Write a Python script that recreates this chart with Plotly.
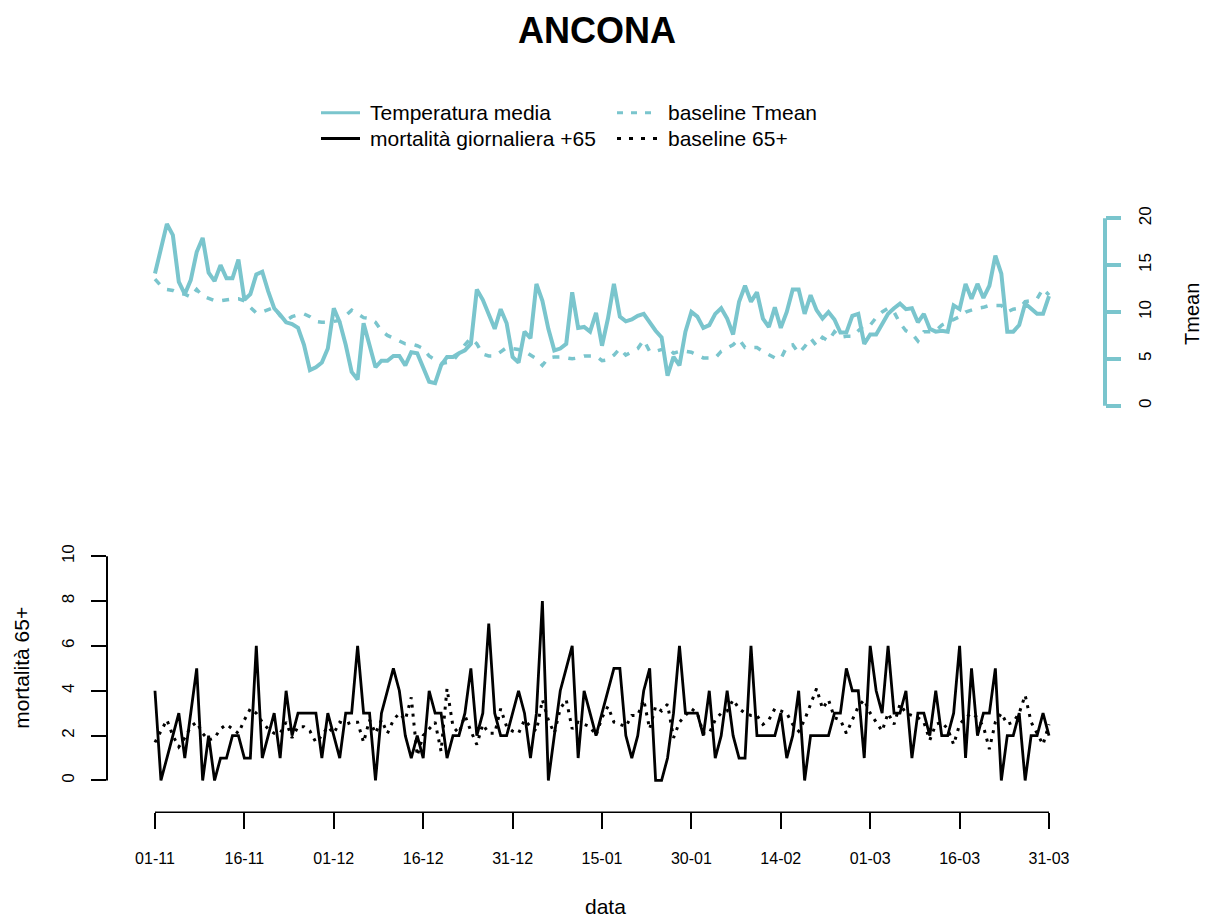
import pandas as pd
import plotly.graph_objects as go

# ---------------- data ----------------
dates = pd.date_range("2022-11-01", "2023-03-31", freq="D")

tmean = [14.1, 16.7, 19.4, 18.2, 13.2, 11.9, 13.4, 16.4, 17.9, 14.2,
         13.3, 15.0, 13.6, 13.6, 15.6, 11.3, 11.9, 14.0, 14.3, 12.2,
         10.4, 9.7, 8.9, 8.7, 8.3, 6.5, 3.8, 4.1, 4.6, 6.1,
         10.4, 8.9, 6.5, 3.6, 2.8, 8.8, 6.5, 4.1, 4.8, 4.8,
         5.3, 5.3, 4.3, 5.7, 5.6, 4.0, 2.55, 2.4, 4.3, 5.2,
         5.2, 5.6, 5.9, 6.6, 12.4, 11.3, 9.7, 8.2, 10.3, 8.8,
         5.2, 4.6, 7.9, 7.2, 13.0, 11.2, 8.2, 5.9, 6.1, 6.6,
         12.1, 8.3, 8.4, 7.9, 9.9, 6.4, 9.3, 13.0, 9.5, 9.0,
         9.2, 9.6, 9.8, 8.9, 8.0, 7.3, 3.2, 5.2, 4.3, 7.9,
         10.0, 9.5, 8.3, 8.6, 9.8, 10.4, 9.3, 7.6, 11.1, 12.8,
         11.1, 12.1, 9.3, 8.4, 10.5, 8.3, 10.0, 12.4, 12.4, 9.8,
         11.8, 10.2, 9.3, 10.0, 9.2, 7.8, 7.8, 9.6, 9.8, 6.6,
         7.6, 7.6, 8.8, 9.8, 10.4, 10.9, 10.3, 10.4, 8.9, 9.8,
         8.2, 7.9, 8.0, 7.9, 10.7, 10.3, 13.0, 11.4, 13.0, 11.5,
         12.8, 16.0, 14.1, 7.9, 7.9, 8.6, 10.9, 10.4, 9.8, 9.8,
         11.7]

baseline_tmean = [13.5, 12.8, 12.4, 12.3, 12.0, 11.9, 11.6, 12.4, 11.7, 11.4,
                  11.2, 11.2, 11.3, 11.4, 11.4, 11.2, 10.5, 9.9, 10.0, 10.3,
                  10.5, 9.6, 9.1, 9.5, 9.7, 9.8, 9.5, 9.0, 8.9, 8.9,
                  9.0, 9.1, 9.6, 10.2, 9.8, 9.4, 9.3, 8.9, 8.0, 7.5,
                  7.2, 6.9, 6.6, 6.6, 6.4, 6.1, 5.3, 4.9, 4.5, 4.6,
                  4.8, 5.6, 6.5, 7.2, 6.6, 5.5, 5.3, 5.3, 5.7, 6.2,
                  6.1, 6.0, 5.8, 5.4, 5.0, 4.3, 5.1, 5.2, 5.2, 5.1,
                  5.0, 5.1, 5.3, 5.3, 5.3, 4.8, 4.9, 5.4, 6.1, 5.4,
                  5.7, 6.1, 7.0, 5.8, 5.8, 6.0, 6.2, 5.6, 5.8, 5.8,
                  5.7, 5.4, 5.1, 5.1, 5.1, 5.8, 6.1, 6.5, 7.1, 6.2,
                  6.2, 6.2, 5.8, 5.4, 5.1, 5.0, 6.3, 6.5, 5.6, 6.3,
                  7.2, 6.4, 7.3, 6.9, 7.9, 7.3, 7.4, 7.4, 8.0, 8.6,
                  8.6, 9.4, 10.0, 10.4, 10.0, 8.8, 8.0, 7.7, 6.9, 7.9,
                  7.9, 8.0, 8.6, 8.9, 9.1, 9.5, 10.0, 10.2, 10.4, 10.5,
                  10.7, 10.7, 10.7, 10.0, 10.3, 10.4, 11.1, 11.2, 11.4, 12.5,
                  11.8]

mortality = [4, 0, 1, 2, 3, 1, 3, 5, 0, 2,
             0, 1, 1, 2, 2, 1, 1, 6, 1, 2,
             3, 1, 4, 2, 3, 3, 3, 3, 1, 3,
             2, 1, 3, 3, 6, 3, 3, 0, 3, 4,
             5, 4, 2, 1, 2, 1, 4, 3, 3, 1,
             2, 2, 3, 5, 2, 3, 7, 3, 2, 2,
             3, 4, 3, 1, 3, 8, 0, 2, 4, 5,
             6, 1, 4, 3, 2, 3, 4, 5, 5, 2,
             1, 2, 4, 5, 0, 0, 1, 3, 6, 3,
             3, 3, 2, 4, 1, 2, 4, 2, 1, 1,
             6, 2, 2, 2, 2, 3, 1, 2, 4, 0,
             2, 2, 2, 2, 3, 3, 5, 4, 4, 1,
             6, 4, 3, 6, 3, 3, 4, 1, 3, 3,
             2, 4, 2, 2, 3, 6, 1, 5, 2, 3,
             3, 5, 0, 2, 2, 3, 0, 2, 2, 3,
             2]

baseline_65 = [1.7, 2.2, 2.7, 2.0, 1.5, 1.9, 2.4, 2.6, 2.1, 1.8,
               1.9, 2.3, 2.5, 2.3, 2.1, 2.7, 3.2, 3.0, 2.6, 2.3,
               2.1, 2.1, 2.6, 1.9, 2.4, 2.4, 2.2, 1.7, 2.0, 2.4,
               2.1, 2.6, 2.5, 2.6, 2.6, 1.7, 2.7, 2.1, 2.7, 2.1,
               2.7, 3.0, 2.7, 3.7, 1.1, 2.0, 2.3, 2.6, 1.3, 4.1,
               2.4, 2.1, 2.9, 2.2, 1.6, 2.5, 2.1, 2.1, 3.2, 2.4,
               2.2, 2.1, 2.7, 2.4, 2.2, 3.6, 2.7, 2.1, 3.2, 3.6,
               2.3, 2.6, 2.5, 2.4, 2.0, 2.8, 3.3, 2.6, 2.5, 2.4,
               2.9, 2.9, 3.6, 2.3, 3.3, 3.1, 3.4, 1.9, 2.6, 2.9,
               3.2, 3.0, 2.1, 2.1, 2.7, 3.0, 3.1, 3.6, 3.2, 3.0,
               2.9, 2.9, 2.5, 2.7, 3.2, 3.1, 3.0, 2.5, 2.2, 2.7,
               3.4, 4.1, 3.2, 3.6, 2.8, 2.7, 2.1, 2.7, 3.3, 3.6,
               3.0, 2.6, 2.2, 3.0, 2.5, 3.4, 3.0, 2.9, 2.8, 2.6,
               1.8, 2.5, 2.6, 2.3, 1.6, 2.5, 2.8, 3.0, 2.8, 2.4,
               1.4, 2.6, 3.0, 2.5, 2.6, 3.0, 3.8, 2.6, 2.1, 1.6,
               2.5]

tick_dates = dates[::15]
tick_labels = [d.strftime("%d-%m") for d in tick_dates]
temp_ticks = [0, 5, 10, 15, 20]
mort_ticks = [0, 2, 4, 6, 8, 10]

# ---------------- styling ----------------
W, H = 1206, 920
TEAL = "#7AC5CD"
FONT = "Liberation Sans, Arial, sans-serif"


def px(x):
    return x / W


def py(y):
    return 1 - y / H


x_left = dates[0] - pd.Timedelta(days=8.05)
x_right = dates[0] + pd.Timedelta(days=156.04)
xdom = [px(107), px(1085)]

fig = go.Figure()
fig.add_trace(go.Scatter(x=dates, y=baseline_tmean, xaxis="x2", yaxis="y2", mode="lines",
                         line=dict(color=TEAL, width=3.5, dash="7px,9px"),
                         name="baseline Tmean"))
fig.add_trace(go.Scatter(x=dates, y=tmean, xaxis="x2", yaxis="y2", mode="lines",
                         line=dict(color=TEAL, width=4), name="Temperatura media"))
fig.add_trace(go.Scatter(x=dates, y=baseline_65, xaxis="x", yaxis="y", mode="lines",
                         line=dict(color="black", width=3, dash="3px,6px"),
                         name="baseline 65+"))
fig.add_trace(go.Scatter(x=dates, y=mortality, xaxis="x", yaxis="y", mode="lines",
                         line=dict(color="black", width=2.8), name="mortalità giornaliera +65"))

shapes = [
    # bottom x axis line (first to last tick)
    dict(type="line", xref="x", yref="paper", x0=dates[0], x1=dates[-1],
         y0=py(812), y1=py(812), line=dict(color="black", width=1.5)),
    # bottom y axis line
    dict(type="line", xref="paper", yref="y", x0=px(107), x1=px(107),
         y0=0, y1=10, line=dict(color="black", width=2)),
    # right temperature axis line
    dict(type="line", xref="paper", yref="y2", x0=px(1105), x1=px(1105),
         y0=0, y1=20, line=dict(color=TEAL, width=4)),
]

# legend (manual, two columns)
leg_rows = [110, 136]
legend_items = [
    (321, 360, leg_rows[0], TEAL, None, "Temperatura media", 368),
    (617, 658, leg_rows[0], TEAL, "6px,8px", "baseline Tmean", 666),
    (321, 360, leg_rows[1], "black", None, "mortalità giornaliera +65", 368),
    (617, 658, leg_rows[1], "black", "4px,8px", "baseline 65+", 666),
]
annotations = []
for x0, x1, yy, col, dash, txt, tx in legend_items:
    ln = dict(color=col, width=3)
    if dash:
        ln["dash"] = dash
    shapes.append(dict(type="line", xref="paper", yref="paper",
                       x0=px(x0), x1=px(x1), y0=py(yy), y1=py(yy), line=ln))
    annotations.append(dict(text=txt, xref="paper", yref="paper", x=px(tx), y=py(yy),
                            xanchor="left", yanchor="middle", showarrow=False,
                            font=dict(size=21, color="black", family=FONT)))

annotations += [
    dict(text="<b>ANCONA</b>", xref="paper", yref="paper", x=px(597), y=py(28),
         xanchor="center", yanchor="middle", showarrow=False,
         font=dict(size=36, color="black", family=FONT)),
    dict(text="Tmean", xref="paper", yref="paper", x=px(1192), y=py(312),
         xanchor="center", yanchor="middle", showarrow=False, textangle=-90,
         font=dict(size=20, color="black", family=FONT)),
    dict(text="mortalità 65+", xref="paper", yref="paper", x=px(22), y=py(667),
         xanchor="center", yanchor="middle", showarrow=False, textangle=-90,
         font=dict(size=21, color="black", family=FONT)),
    dict(text="data", xref="paper", yref="paper", x=px(605), y=py(906),
         xanchor="center", yanchor="middle", showarrow=False,
         font=dict(size=21, color="black", family=FONT)),
]

fig.update_layout(
    width=W, height=H,
    margin=dict(l=0, r=0, t=0, b=0),
    paper_bgcolor="white", plot_bgcolor="white",
    showlegend=False,
    font=dict(family=FONT, color="black"),
    xaxis=dict(domain=xdom, range=[x_left, x_right], anchor="y",
               tickvals=list(tick_dates), ticktext=tick_labels,
               ticks="outside", ticklen=16, tickwidth=1.5, tickcolor="black",
               tickfont=dict(size=16, family=FONT), ticklabelstandoff=15,
               showline=False, showgrid=False, zeroline=False),
    yaxis=dict(domain=[py(812), py(546)], range=[-1.422, 10.4], anchor="x",
               tickvals=mort_ticks, ticks="outside", ticklen=15, tickwidth=2,
               tickcolor="black", tickangle=-90,
               tickfont=dict(size=17, family=FONT), ticklabelstandoff=10,
               showline=False, showgrid=False, zeroline=False),
    xaxis2=dict(domain=xdom, range=[x_left, x_right], anchor="y2", visible=False),
    yaxis2=dict(domain=[py(420), py(200)], range=[-1.70, 21.70], anchor="free",
                side="right", position=px(1105),
                tickvals=temp_ticks, ticks="outside", ticklen=15, tickwidth=4,
                tickcolor=TEAL, tickangle=-90,
                tickfont=dict(size=17, family=FONT), ticklabelstandoff=10,
                showline=False, showgrid=False, zeroline=False),
    shapes=shapes,
    annotations=annotations,
)

fig.write_html("out.html", config={"displayModeBar": False},
               post_script="document.body.style.margin='0';document.body.style.overflow='hidden';")
